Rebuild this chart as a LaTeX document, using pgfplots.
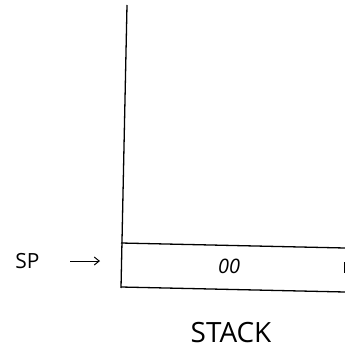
\documentclass[border=0pt]{standalone}
\usepackage{fontspec}
\setmainfont{Open Sans}
\usepackage{pgfplots}
\pgfplotsset{compat=1.18}
\usetikzlibrary{arrows.meta}
\begin{document}
\begin{tikzpicture}
\begin{axis}[
  width=345bp, height=353bp, scale only axis,
  xmin=0, xmax=345, ymin=0, ymax=353, y dir=reverse,
  hide axis, clip=false,
]
% left wall
\addplot[black, line width=1.3pt] coordinates {(127,5) (121,288)};
% top of cell
\addplot[black, line width=1.3pt] coordinates {(121,243) (345,248)};
% bottom of cell
\addplot[black, line width=1.3pt] coordinates {(121,287) (345,292)};
% small right tick
\addplot[black, line width=0.6pt] coordinates {(344,262) (344,273)};
% arrow
\addplot[black, line width=1pt, -{Straight Barb[length=5pt,width=8pt]}] coordinates {(70,261) (100,261)};
\node[font=\fontsize{21}{24}\selectfont] at (axis cs:27.5,261) {SP};
\node[font=\fontsize{20}{24}\selectfont\itshape] at (axis cs:229,266) {00};
\node[font=\fontsize{28}{32}\selectfont] at (axis cs:231,333) {STACK};
\coordinate (bl) at (axis cs:0,353);
\coordinate (tr) at (axis cs:345,0);
\end{axis}
\pgfresetboundingbox
\path[use as bounding box] (bl) rectangle (tr);
\end{tikzpicture}
\end{document}
